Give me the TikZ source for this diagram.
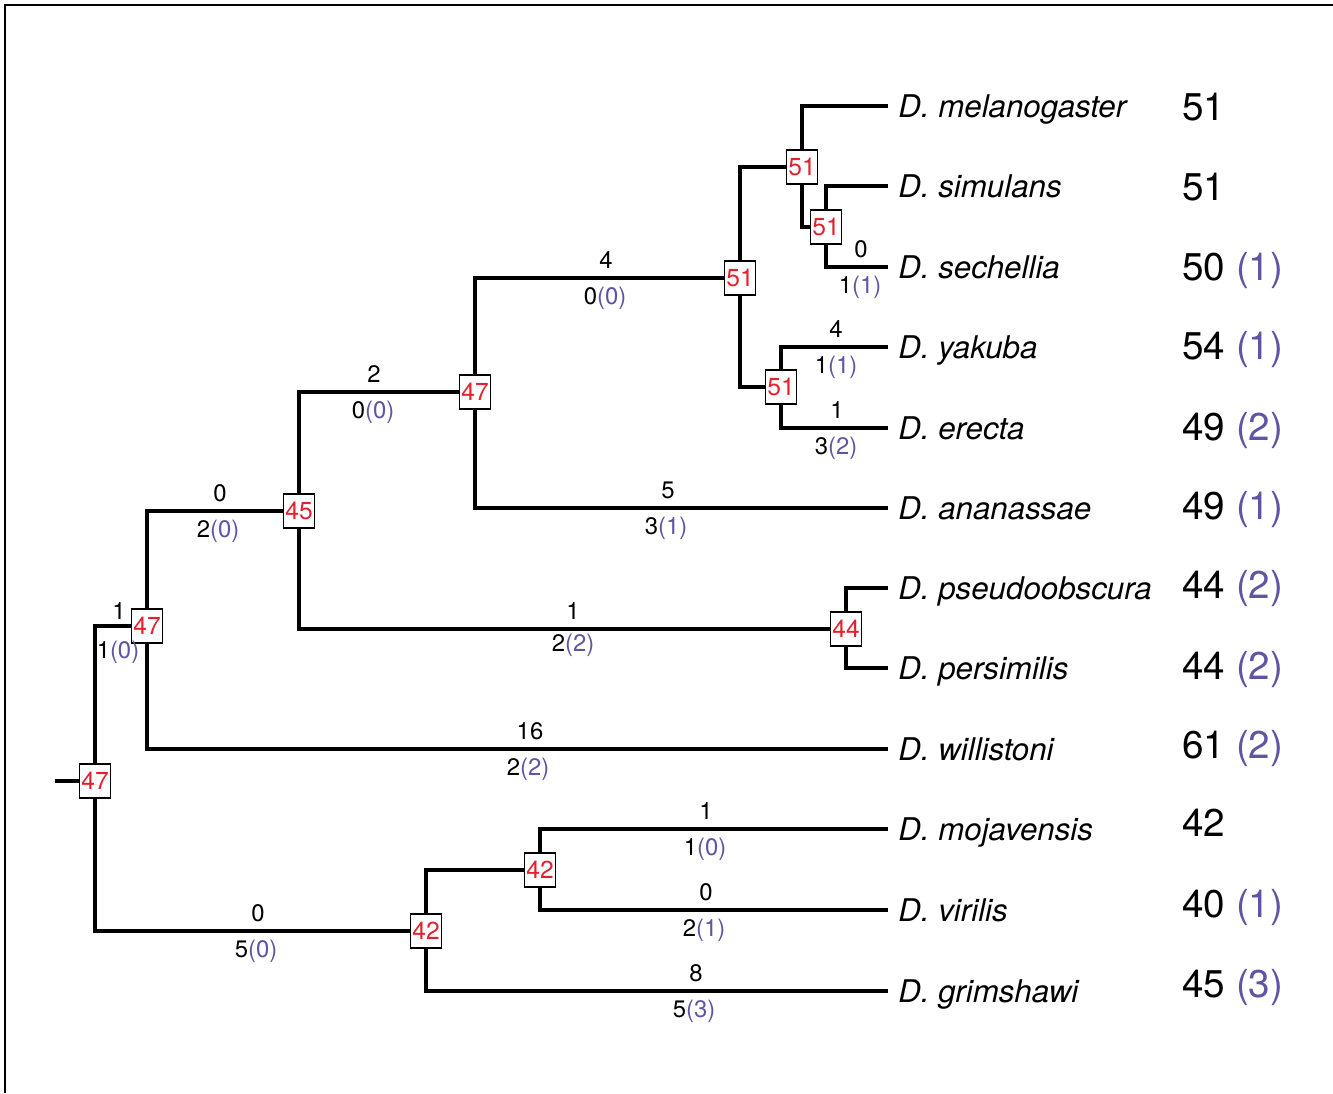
\documentclass[tikz,border=0pt]{standalone}
\usepackage{fontspec}
\setmainfont{TeX Gyre Heros}
\usepackage{xcolor}

\definecolor{boxred}{RGB}{228,32,44}
\definecolor{lossblue}{RGB}{96,84,164}
\newcommand{\loss}[1]{\textcolor{lossblue}{(#1)}}

\begin{document}
\begin{tikzpicture}[
    x=0.02cm, y=-0.02cm,
    branch/.style={line width=2.2pt},
    hit/.style={draw, line width=0.9pt, fill=white, minimum width=0.62cm,
      minimum height=0.68cm, inner sep=0pt, text=boxred,
      font=\fontsize{14}{14}\selectfont},
    lab/.style={inner sep=2pt, text height=9.8pt, text depth=3pt,
      font=\fontsize{13.6}{13.6}\selectfont},
    species/.style={anchor=west, inner xsep=0.2cm, inner ysep=0pt,
      text height=12.8pt, text depth=0pt, font=\fontsize{17.8}{17.8}\selectfont\itshape},
    count/.style={anchor=west, inner sep=0pt, text height=15.6pt, text depth=0pt,
      font=\fontsize{22}{22}\selectfont},
  ]
  \useasboundingbox (0,0) rectangle (1333,1093);
  \draw[line width=1pt] (5,1093) -- (5,5) -- (1333,5);

  \node[hit] (R) at (95,781) {47};
  \node[hit] (A) at (147,626) {47};
  \node[hit] (B) at (299,511) {45};
  \node[hit] (C) at (475,392) {47};
  \node[hit] (D) at (740,278) {51};
  \node[hit] (E) at (802,167) {51};
  \node[hit] (F) at (826,227) {51};
  \node[hit] (G) at (781,387) {51};
  \node[hit] (H) at (846,629) {44};
  \node[hit] (I) at (426,931) {42};
  \node[hit] (J) at (540,870) {42};
  \coordinate (stub) at (55,781);

  \node[species] (mel) at (888,106) {D. melanogaster};
  \node[species] (sim) at (888,186) {D. simulans};
  \node[species] (sec) at (888,267) {D. sechellia};
  \node[species] (yak) at (888,347) {D. yakuba};
  \node[species] (ere) at (888,428) {D. erecta};
  \node[species] (ana) at (888,508) {D. ananassae};
  \node[species] (pse) at (888,588) {D. pseudoobscura};
  \node[species] (per) at (888,668) {D. persimilis};
  \node[species] (wil) at (888,749) {D. willistoni};
  \node[species] (moj) at (888,829) {D. mojavensis};
  \node[species] (vir) at (888,910) {D. virilis};
  \node[species] (gri) at (888,991) {D. grimshawi};

  \draw[branch] (stub) -- (R);
  \draw[branch] (R) |- (A);
  \draw[branch] (R) |- (I);
  \draw[branch] (A) |- (B);
  \draw[branch] (A) |- (wil.west);
  \draw[branch] (B) |- (C);
  \draw[branch] (B) |- (H);
  \draw[branch] (C) |- (D);
  \draw[branch] (C) |- (ana.west);
  \draw[branch] (D) |- (E);
  \draw[branch] (D) |- (G);
  \draw[branch] (E) |- (mel.west);
  \draw[branch] (E) |- (F);
  \draw[branch] (F) |- (sim.west);
  \draw[branch] (F) |- (sec.west);
  \draw[branch] (G) |- (yak.west);
  \draw[branch] (G) |- (ere.west);
  \draw[branch] (H) |- (pse.west);
  \draw[branch] (H) |- (per.west);
  \draw[branch] (I) |- (J);
  \draw[branch] (I) |- (gri.west);
  \draw[branch] (J) |- (moj.west);
  \draw[branch] (J) |- (vir.west);

  \node[lab, above] (ga) at (119,629) {1};
  \node[lab, below=5pt] (la) at (118,629) {1\loss{0}};
  \node[lab, above] (gb) at (220,511) {0};
  \node[lab, below=3pt] (lb) at (218,511) {2\loss{0}};
  \node[lab, above] (gc) at (374,392) {2};
  \node[lab, below=3pt] (lc) at (373,392) {0\loss{0}};
  \node[lab, above] (gd) at (606,278) {4};
  \node[lab, below=3pt] (ld) at (605,278) {0\loss{0}};
  \node[lab, above] (gsec) at (861,267) {0};
  \node[lab, below=3pt] (lsec) at (860,267) {1\loss{1}};
  \node[lab, above] (gyak) at (836,347) {4};
  \node[lab, below=3pt] (lyak) at (836,347) {1\loss{1}};
  \node[lab, above] (gere) at (837,428) {1};
  \node[lab, below=3pt] (lere) at (836,428) {3\loss{2}};
  \node[lab, above] (gana) at (668,508) {5};
  \node[lab, below=3pt] (lana) at (666,508) {3\loss{1}};
  \node[lab, above] (gh) at (573,629) {1};
  \node[lab, below=1pt] (lh) at (573,629) {2\loss{2}};
  \node[lab, above] (gwil) at (530,749) {16};
  \node[lab, below=3pt] (lwil) at (528,749) {2\loss{2}};
  \node[lab, above] (gi) at (258,931) {0};
  \node[lab, below=3pt] (li) at (256,931) {5\loss{0}};
  \node[lab, above] (gmoj) at (706,829) {1};
  \node[lab, below=3pt] (lmoj) at (705,829) {1\loss{0}};
  \node[lab, above] (gvir) at (706,910) {0};
  \node[lab, below=3pt] (lvir) at (704,910) {2\loss{1}};
  \node[lab, above] (ggri) at (696,991) {8};
  \node[lab, below=3pt] (lgri) at (694,991) {5\loss{3}};

  \node[count] (cmel) at (1182,107) {51};
  \node[count] (csim) at (1182,187) {51};
  \node[count] (csec) at (1182,267) {50 \loss{1}};
  \node[count] (cyak) at (1182,346) {54 \loss{1}};
  \node[count] (cere) at (1182,427) {49 \loss{2}};
  \node[count] (cana) at (1182,506) {49 \loss{1}};
  \node[count] (cpse) at (1182,585) {44 \loss{2}};
  \node[count] (cper) at (1182,666) {44 \loss{2}};
  \node[count] (cwil) at (1182,745) {61 \loss{2}};
  \node[count] (cmoj) at (1182,823) {42};
  \node[count] (cvir) at (1182,904) {40 \loss{1}};
  \node[count] (cgri) at (1182,984) {45 \loss{3}};
\end{tikzpicture}
\end{document}
